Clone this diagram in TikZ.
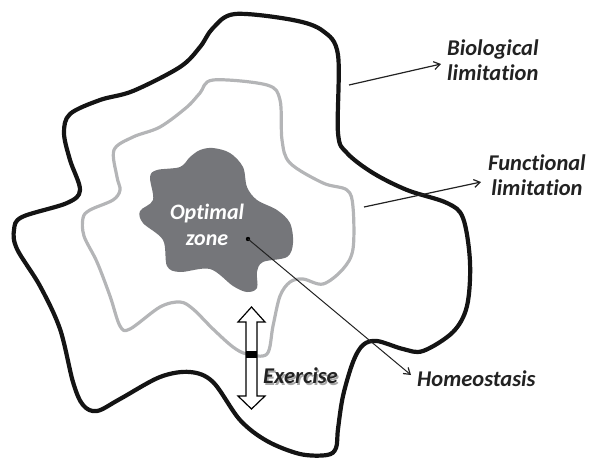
\documentclass[tikz,border=0pt]{standalone}
\usepackage{fontspec}
\setmainfont{Carlito}[Ligatures=NoCommon]
\usetikzlibrary{arrows.meta}
\definecolor{blobgray}{HTML}{75767A}
\definecolor{linegray}{HTML}{B4B5B7}
\definecolor{txt}{HTML}{222222}
\tikzset{
  lbl/.style={font=\fontsize{22.5}{25}\selectfont\bfseries\itshape, text=txt, align=left, inner sep=0pt},
  conn/.style={line width=1.2pt, draw=txt, -{Straight Barb[length=6pt,width=8pt,line width=1.2pt]}},
  outerline/.style={line width=4.2pt, draw=black!92, line join=round},
  innerline/.style={line width=3.2pt, draw=linegray, line join=round},
}
\begin{document}
\begin{tikzpicture}[x=1pt,y=-1pt]
\useasboundingbox (0,0) rectangle (590,459);
% outer boundary
\draw[outerline] plot[smooth cycle, tension=0.55] coordinates {
(235,14) (293,20) (323,31) (338,55) (338,133) (347,153) (373,173) (407,190) (447,203) (463,218) (470,262) (467,306) (453,332) (423,351) (403,349) (377,341) (363,345) (353,362) (343,396) (338,429) (336,448) (327,455) (300,454) (267,441) (240,420) (213,382) (190,372) (160,377) (120,399) (97,411) (83,405) (73,382) (60,329) (40,286) (17,249) (14,230) (22,217) (67,203) (80,190) (70,160) (64,133) (70,114) (100,100) (133,91) (180,67) (200,47) (213,28)};
% inner (gray) boundary
\draw[innerline] plot[smooth cycle, tension=0.55] coordinates {
(213,80) (267,85) (280,100) (282,140) (290,163) (323,183) (347,190) (353,207) (353,249) (343,269) (323,284) (303,279) (290,282) (280,296) (273,326) (267,354) (247,354) (233,347) (213,329) (193,309) (180,302) (160,307) (130,329) (120,326) (110,296) (97,262) (84,236) (83,218) (90,210) (113,200) (120,190) (117,177) (114,150) (133,137) (160,127) (187,107) (200,93)};
% optimal zone blob
\fill[blobgray] plot[smooth cycle, tension=0.55] coordinates {
(200,150) (213,148) (230,153) (243,167) (247,187) (257,200) (277,210) (290,223) (293,243) (287,257) (263,262) (257,272) (257,288) (247,292) (233,286) (210,269) (180,272) (167,266) (163,240) (143,223) (140,211) (153,200) (150,177) (157,170) (180,167) (190,157)};
\node[lbl, text=white, align=center, font=\fontsize{22}{26}\selectfont\bfseries\itshape] (opt) at (207,225) {Optimal\\zone};
\fill[black] (248,239) circle (2.2);
\coordinate (homeoStart) at (248,239);
% labels
\node[lbl, anchor=north west] (bio) at (447,40) {Biological\\limitation};
\node[lbl, anchor=north west, align=center] (func) at (488,155) {Functional\\limitation};
\node[lbl, anchor=north west] (homeo) at (417,371) {Homeostasis};
% connectors
\coordinate (bioStart) at (349,85);
\coordinate (bioEnd) at (441,64);
\coordinate (funcStart) at (364,207);
\coordinate (funcEnd) at (481,182);
\coordinate (homeoEnd) at (411,375);
\draw[conn] (bioStart) -- (bioEnd);
\draw[conn] (funcStart) -- (funcEnd);
\draw[conn, line width=1pt] (homeoStart) -- (homeoEnd);
% exercise double arrow
\draw[line width=1.2pt, fill=white, line join=miter]
  (251.5,307) -- (265,322) -- (257,322) -- (257,396) -- (265,396) -- (251.5,409)
  -- (238,396) -- (246,396) -- (246,322) -- (238,322) -- cycle;
\fill[black] (246,351) rectangle (257,358);
\node[lbl, text=black!35, anchor=west] at (264.5,377.5) {Exercise};
\node[lbl, anchor=west] (exer) at (263,376) {Exercise};
\end{tikzpicture}
\end{document}
